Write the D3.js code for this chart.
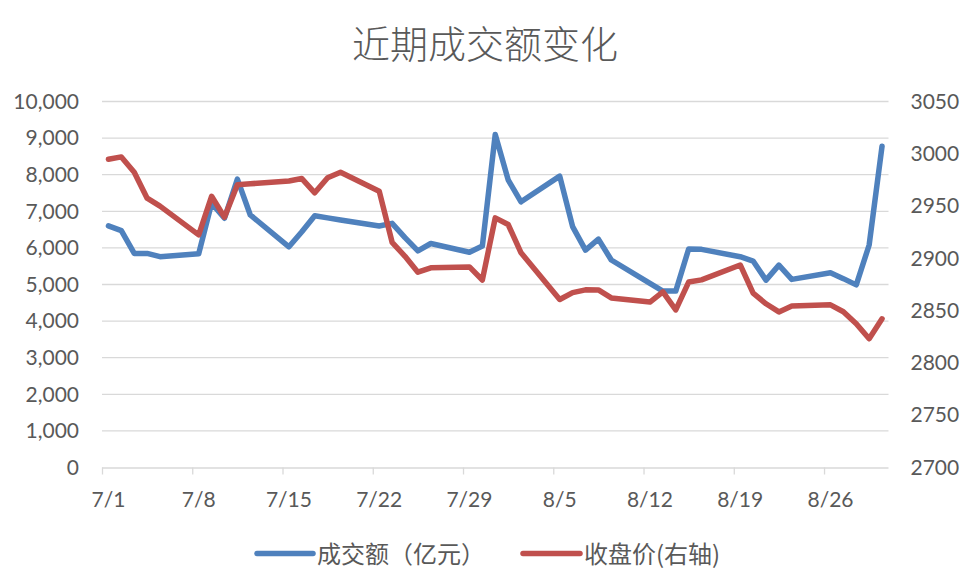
<!DOCTYPE html>
<html>
<head>
<meta charset="utf-8">
<script src="https://cdn.jsdelivr.net/npm/d3@7"></script>
<style>
  html, body { margin: 0; padding: 0; background: #fff; }
  svg { display: block; }
</style>
</head>
<body>
<svg id="chart" width="970" height="576"></svg>
<script>
const dates = ["7/1","7/2","7/3","7/4","7/5","7/8","7/9","7/10","7/11","7/12",
  "7/15","7/16","7/17","7/18","7/19","7/22","7/23","7/24","7/25","7/26",
  "7/29","7/30","7/31","8/1","8/2","8/5","8/6","8/7","8/8","8/9",
  "8/12","8/13","8/14","8/15","8/16","8/19","8/20","8/21","8/22","8/23",
  "8/26","8/27","8/28","8/29","8/30"];
const turnover = [6600,6470,5850,5850,5760,5840,7220,6810,7880,6900,
  6030,6440,6880,6820,6760,6600,6670,6280,5920,6120,
  5880,6050,9100,7860,7260,7960,6580,5940,6240,5670,
  5030,4820,4820,5970,5960,5760,5640,5120,5530,5140,
  5320,5160,4990,6080,8780];
const closePrice = [2994.73,2997.01,2982.38,2957.57,2949.93,2922.45,2959.37,2939.36,2970.39,2971.30,
  2974.01,2976.30,2962.70,2977.13,2982.31,2964.22,2915.37,2901.95,2886.74,2890.90,
  2891.85,2879.30,2938.75,2932.39,2905.34,2860.70,2867.28,2869.90,2869.83,2862.19,
  2858.20,2867.95,2850.65,2877.36,2879.43,2893.67,2866.66,2856.58,2848.77,2854.37,
  2855.52,2848.97,2837.43,2823.11,2842.21];
const leftTicks = [0,1000,2000,3000,4000,5000,6000,7000,8000,9000,10000];
const rightTicks = [2700,2750,2800,2850,2900,2950,3000,3050];
const xTickLabels = ["7/1","7/8","7/15","7/22","7/29","8/5","8/12","8/19","8/26"];
const title = "近期成交额变化";
const seriesNames = ["成交额（亿元）", "收盘价(右轴)"];
const colors = ["#4F81BD", "#C0504D"];
const YEAR = 2024;

const parse = s => { const [m, d] = s.split("/").map(Number); return new Date(Date.UTC(YEAR, m - 1, d)); };
const DAY = 86400000;
const mid = d => new Date(d.getTime() + DAY / 2);

const svg = d3.select("#chart");
const L = 102, R = 888.5, T = 101.5, B = 467.5;
const textColor = "#595959";
const fontLatin = "Lato, 'Open Sans', 'Noto Sans', sans-serif";
const fontCJK = "'Noto Sans CJK SC', 'Noto Sans', sans-serif";

const x = d3.scaleUtc().domain([parse("7/1"), new Date(parse("8/30").getTime() + DAY)]).range([L, R]);
const yL = d3.scaleLinear().domain([0, 10000]).range([B, T]);
const yR = d3.scaleLinear().domain([2700, 3050]).range([B, T]);

// gridlines
svg.append("g").selectAll("line").data(leftTicks.filter(v => v > 0)).join("line")
  .attr("x1", L).attr("x2", R)
  .attr("y1", d => yL(d)).attr("y2", d => yL(d))
  .attr("stroke", "#D9D9D9").attr("stroke-width", 1.3);

// x axis
const xTickDates = xTickLabels.map(parse);
const xAxis = d3.axisBottom(x).tickValues(xTickDates).tickSize(7).tickFormat(() => "");
const gx = svg.append("g").attr("transform", `translate(0,${B})`).call(xAxis);
gx.select(".domain").attr("stroke", "#D9D9D9").attr("stroke-width", 1.3).attr("d", `M${L},0.5H${R}`);
gx.selectAll(".tick line").attr("stroke", "#D9D9D9").attr("stroke-width", 1.3);
svg.append("g").selectAll("text").data(xTickLabels).join("text")
  .attr("x", d => x(mid(parse(d))))
  .attr("y", 507)
  .attr("text-anchor", "middle")
  .attr("fill", textColor)
  .attr("font-family", fontLatin)
  .attr("font-size", 21)
  .text(d => d);

// left axis
const gl = svg.append("g").attr("transform", `translate(${L - 23},0)`)
  .call(d3.axisLeft(yL).tickValues(leftTicks).tickSize(0).tickPadding(0).tickFormat(d3.format(",")));
gl.select(".domain").remove();
gl.selectAll("text").attr("fill", textColor).attr("font-family", fontLatin).attr("font-size", 21);

// right axis
const gr = svg.append("g").attr("transform", `translate(${R + 22},0)`)
  .call(d3.axisRight(yR).tickValues(rightTicks).tickSize(0).tickPadding(0).tickFormat(d3.format("d")));
gr.select(".domain").remove();
gr.selectAll("text").attr("fill", textColor).attr("font-family", fontLatin).attr("font-size", 21);

// lines
const lineL = d3.line().x((d, i) => x(mid(parse(dates[i])))).y(d => yL(d));
const lineR = d3.line().x((d, i) => x(mid(parse(dates[i])))).y(d => yR(d));
svg.append("path").datum(turnover).attr("d", lineL)
  .attr("fill", "none").attr("stroke", colors[0]).attr("stroke-width", 5.5)
  .attr("stroke-linejoin", "round").attr("stroke-linecap", "round");
svg.append("path").datum(closePrice).attr("d", lineR)
  .attr("fill", "none").attr("stroke", colors[1]).attr("stroke-width", 5.5)
  .attr("stroke-linejoin", "round").attr("stroke-linecap", "round");

// title
svg.append("text").attr("x", 485).attr("y", 58).attr("text-anchor", "middle")
  .attr("fill", textColor).attr("font-family", fontCJK).attr("font-size", 38)
  .attr("font-weight", 300)
  .text(title);

// legend
const legendItems = [
  { name: seriesNames[0], color: colors[0], x1: 257, x2: 313, tx: 317 },
  { name: seriesNames[1], color: colors[1], x1: 523, x2: 580, tx: 584 }
];
const lg = svg.append("g");
legendItems.forEach(it => {
  lg.append("line").attr("x1", it.x1).attr("x2", it.x2).attr("y1", 553.5).attr("y2", 553.5)
    .attr("stroke", it.color).attr("stroke-width", 5.5).attr("stroke-linecap", "round");
  lg.append("text").attr("x", it.tx).attr("y", 562.5)
    .attr("fill", textColor).attr("font-family", fontCJK).attr("font-size", 24)
    .text(it.name);
});
</script>
</body>
</html>
